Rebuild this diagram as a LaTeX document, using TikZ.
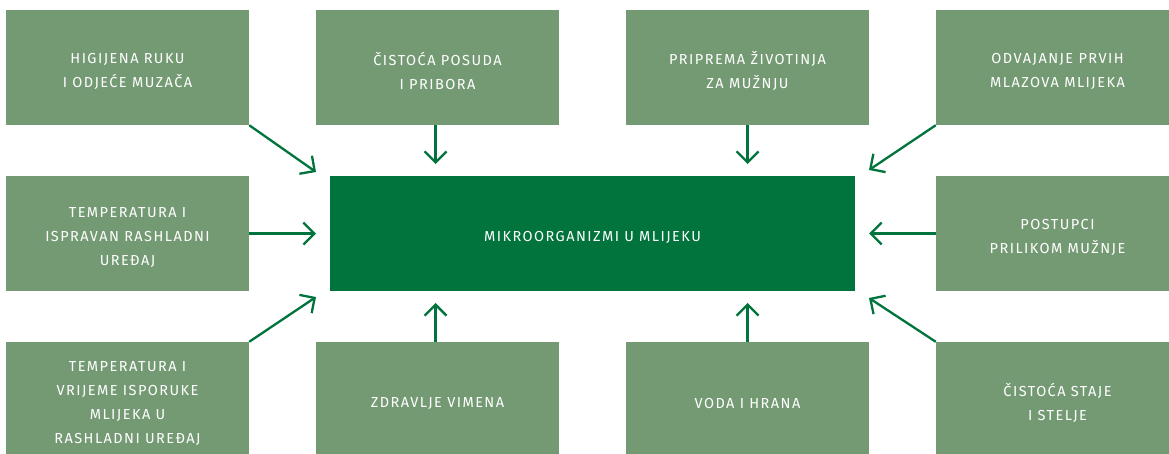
\documentclass[tikz,border=0pt]{standalone}
\usepackage{fontspec}
\usetikzlibrary{arrows.meta}
\newfontfamily\boxfont[LetterSpace=10]{Fira Sans}
\definecolor{boxgreen}{RGB}{116,154,116}
\definecolor{dkgreen}{RGB}{0,116,60}
\tikzset{
  factor/.style={rectangle, fill=boxgreen, minimum width=243pt, minimum height=115pt,
    inner sep=0pt},
  centerbox/.style={factor, fill=dkgreen, minimum width=525pt},
  lbl/.style={inner sep=0pt, text=white, align=center,
    font=\boxfont\fontsize{14.5}{24}\selectfont},
  link/.style={draw=dkgreen, line width=2.3pt, line join=miter,
    -{Straight Barb[length=11pt,width=22pt,line width=2.3pt]}}
}
\begin{document}
\begin{tikzpicture}[x=1pt,y=-1pt]
\useasboundingbox (0,0) rectangle (1169,453);
\clip (0,0) rectangle (1169,453);
\node[centerbox] (c) at (592.5,233.5) {};
\node[factor] (b1) at (127.5,67.5) {};
\node[factor] (b2) at (437.5,67.5) {};
\node[factor] (b3) at (747.5,67.5) {};
\node[factor] (b4) at (1057.5,67.5) {};
\node[factor] (b5) at (127.5,233.5) {};
\node[factor] (b6) at (1057.5,233.5) {};
\node[factor] (b7) at (127.5,399.5) {};
\node[factor] (b8) at (437.5,399.5) {};
\node[factor] (b9) at (747.5,399.5) {};
\node[factor] (b10) at (1057.5,399.5) {};
\node[lbl] (lc) at ([yshift=-3.5pt]c.center) {MIKROORGANIZMI U MLIJEKU};
\node[lbl] (l1) at ([yshift=-3.5pt]b1.center) {HIGIJENA RUKU\\I ODJEĆE MUZAČA};
\node[lbl] (l2) at ([yshift=-3.5pt]b2.center) {ČISTOĆA POSUDA\\I PRIBORA};
\node[lbl] (l3) at ([yshift=-3.5pt]b3.center) {PRIPREMA ŽIVOTINJA\\ZA MUŽNJU};
\node[lbl] (l4) at ([yshift=-3.5pt]b4.center) {ODVAJANJE PRVIH\\MLAZOVA MLIJEKA};
\node[lbl] (l5) at ([yshift=-3.5pt]b5.center) {TEMPERATURA I\\ISPRAVAN RASHLADNI\\UREĐAJ};
\node[lbl] (l6) at ([yshift=-3.5pt]b6.center) {POSTUPCI\\PRILIKOM MUŽNJE};
\node[lbl] (l7) at ([yshift=-3.5pt]b7.center) {TEMPERATURA I\\VRIJEME ISPORUKE\\MLIJEKA U\\RASHLADNI UREĐAJ};
\node[lbl] (l8) at ([yshift=-3.5pt]b8.center) {ZDRAVLJE VIMENA};
\node[lbl] (l9) at ([yshift=-3.5pt]b9.center) {VODA I HRANA};
\node[lbl] (l10) at ([yshift=-3.5pt]b10.center) {ČISTOĆA STAJE\\I STELJE};
\coordinate (t1) at (316,172);
\coordinate (t2) at (435.5,164);
\coordinate (t3) at (747.5,164);
\coordinate (t4) at (869,170);
\coordinate (t5) at (316,233.5);
\coordinate (t6) at (869,233.5);
\coordinate (t7) at (316,297);
\coordinate (t8) at (435.5,303);
\coordinate (t9) at (747.5,303);
\coordinate (t10) at (869,298);
\draw[link] (b1.south east) -- (t1);
\draw[link] (b2.south -| t2) -- (t2);
\draw[link] (b3.south) -- (t3);
\draw[link] (b4.south west) -- (t4);
\draw[link] (b5.east) -- (t5);
\draw[link] (b6.west) -- (t6);
\draw[link] (b7.north east) -- (t7);
\draw[link] (b8.north -| t8) -- (t8);
\draw[link] (b9.north) -- (t9);
\draw[link] (b10.north west) -- (t10);
\end{tikzpicture}
\end{document}
